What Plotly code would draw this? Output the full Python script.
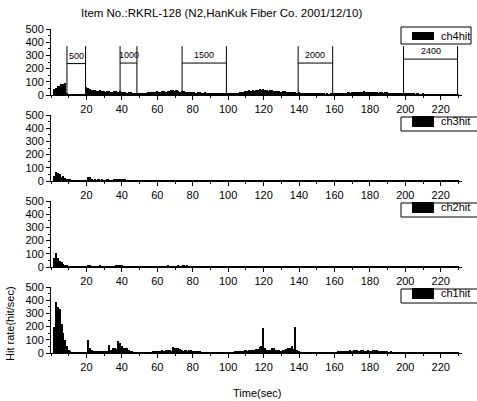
import plotly.graph_objects as go

# Hit rate per 1-second bin for each channel (t = 1 .. 230 s)
ch4hit = [
    0, 45, 55, 65, 72, 80, 85, 90, 8, 3,
    2, 2, 3, 2, 2, 3, 2, 3, 4, 58,
    52, 45, 40, 35, 38, 30, 32, 35, 28, 30,
    25, 33, 28, 22, 25, 30, 28, 25, 30, 22,
    20, 25, 18, 22, 20, 18, 15, 14, 10, 8,
    10, 12, 15, 18, 20, 22, 20, 25, 22, 28,
    25, 22, 28, 30, 25, 28, 32, 35, 38, 30,
    35, 28, 25, 30, 28, 22, 25, 20, 22, 25,
    20, 18, 22, 20, 18, 15, 20, 18, 15, 18,
    15, 12, 15, 12, 10, 12, 8, 10, 8, 10,
    12, 10, 15, 12, 18, 15, 20, 22, 25, 30,
    28, 35, 30, 38, 32, 40, 35, 45, 38, 42,
    35, 40, 30, 35, 38, 28, 32, 30, 28, 25,
    28, 30, 25, 22, 25, 20, 22, 20, 18, 20,
    18, 15, 18, 15, 12, 15, 12, 10, 12, 8,
    10, 8, 10, 8, 6, 8, 6, 8, 10, 8,
    10, 12, 15, 12, 15, 18, 15, 20, 18, 22,
    20, 25, 22, 20, 25, 22, 28, 20, 25, 22,
    20, 25, 22, 20, 18, 22, 20, 18, 22, 20,
    18, 15, 18, 15, 12, 15, 12, 15, 12, 10,
    12, 10, 8, 10, 8, 6, 8, 5, 6, 12,
    4, 5, 3, 4, 3, 5, 3, 2, 3, 2,
    3, 2, 4, 2, 3, 2, 3, 2, 3, 2,
]
ch3hit = [
    0, 40, 70, 60, 50, 30, 35, 20, 12, 10,
    8, 5, 4, 3, 3, 2, 2, 3, 2, 5,
    33, 30, 10, 6, 8, 7, 9, 6, 8, 7,
    6, 8, 5, 6, 7, 9, 10, 11, 9, 10,
    8, 9, 6, 5, 4, 3, 4, 3, 2, 3,
    2, 3, 4, 3, 2, 3, 4, 5, 4, 3,
    4, 5, 4, 3, 2, 3, 4, 3, 2, 3,
    5, 4, 6, 5, 4, 6, 5, 7, 6, 5,
    6, 4, 5, 6, 4, 5, 3, 4, 3, 2,
    3, 2, 3, 2, 2, 3, 2, 3, 2, 3,
    4, 3, 5, 4, 3, 4, 5, 3, 4, 6,
    4, 5, 3, 4, 5, 4, 3, 5, 4, 3,
    4, 3, 5, 6, 4, 5, 6, 7, 5, 4,
    3, 4, 3, 5, 4, 3, 4, 3, 2, 3,
    2, 3, 2, 2, 3, 2, 3, 2, 2, 3,
    2, 3, 2, 2, 3, 2, 3, 2, 3, 2,
    3, 4, 3, 4, 3, 4, 5, 4, 3, 4,
    5, 4, 6, 5, 4, 5, 6, 5, 7, 6,
    5, 6, 5, 4, 5, 4, 3, 4, 3, 4,
    3, 2, 3, 4, 3, 2, 3, 2, 3, 2,
    4, 3, 2, 3, 2, 3, 4, 3, 2, 3,
    2, 3, 2, 3, 4, 2, 3, 2, 3, 2,
    3, 2, 3, 2, 3, 2, 3, 2, 2, 2,
]
ch2hit = [
    0, 70, 105, 70, 45, 40, 22, 15, 8, 6,
    5, 4, 3, 3, 2, 3, 2, 2, 3, 5,
    10, 8, 6, 4, 5, 6, 5, 8, 6, 5,
    4, 5, 6, 5, 6, 7, 8, 10, 12, 9,
    7, 5, 4, 3, 4, 5, 3, 4, 3, 4,
    5, 3, 4, 3, 4, 3, 5, 4, 3, 4,
    4, 5, 4, 6, 5, 9, 6, 4, 5, 6,
    7, 8, 6, 7, 8, 7, 9, 6, 5, 4,
    3, 3, 2, 3, 3, 2, 3, 3, 2, 3,
    3, 2, 3, 2, 3, 3, 2, 3, 2, 3,
    4, 3, 5, 4, 6, 5, 4, 5, 3, 4,
    5, 6, 4, 5, 4, 3, 5, 4, 6, 5,
    4, 5, 3, 4, 5, 4, 3, 4, 5, 3,
    4, 3, 4, 5, 3, 4, 3, 4, 3, 3,
    2, 3, 2, 3, 2, 2, 3, 2, 3, 2,
    2, 3, 2, 3, 2, 3, 2, 2, 3, 2,
    4, 5, 4, 6, 5, 4, 6, 5, 7, 6,
    5, 6, 7, 5, 6, 5, 4, 6, 5, 4,
    5, 6, 4, 5, 4, 6, 5, 4, 5, 4,
    3, 2, 3, 2, 3, 4, 2, 3, 2, 3,
    2, 3, 4, 2, 3, 2, 3, 2, 3, 4,
    2, 3, 2, 3, 2, 3, 2, 3, 2, 3,
    2, 3, 2, 2, 3, 2, 3, 2, 2, 2,
]
ch1hit = [
    0, 200, 385, 345, 330, 220, 150, 100, 50, 25,
    10, 5, 4, 3, 3, 2, 3, 2, 3, 4,
    100, 40, 25, 10, 12, 15, 12, 15, 10, 12,
    8, 10, 60, 25, 35, 40, 30, 90, 75, 55,
    40, 35, 38, 20, 12, 8, 5, 3, 2, 3,
    2, 2, 3, 2, 3, 4, 6, 8, 10, 12,
    15, 18, 20, 18, 22, 25, 20, 18, 48, 35,
    40, 38, 30, 20, 18, 22, 15, 20, 25, 18,
    15, 12, 10, 8, 6, 5, 4, 3, 3, 2,
    2, 1, 2, 1, 2, 1, 2, 1, 2, 1,
    2, 3, 2, 8, 10, 12, 15, 18, 15, 20,
    18, 22, 20, 25, 22, 28, 30, 45, 50, 190,
    40, 25, 20, 22, 35, 38, 25, 20, 22, 18,
    20, 25, 28, 35, 40, 55, 30, 195, 25, 15,
    5, 2, 3, 2, 3, 2, 2, 3, 2, 3,
    2, 3, 2, 2, 3, 2, 3, 2, 2, 3,
    6, 8, 10, 8, 12, 15, 18, 15, 20, 18,
    22, 25, 20, 18, 22, 20, 18, 15, 20, 18,
    15, 22, 25, 20, 15, 12, 10, 8, 10, 8,
    6, 8, 6, 5, 6, 4, 5, 3, 4, 2,
    1, 2, 1, 1, 2, 1, 1, 2, 1, 1,
    2, 1, 1, 2, 1, 1, 2, 1, 1, 2,
    1, 1, 2, 1, 1, 2, 1, 1, 1, 1,
]
time_sec = list(range(1, len(ch4hit) + 1))

channels = ["ch4hit", "ch3hit", "ch2hit", "ch1hit"]
series = [ch4hit, ch3hit, ch2hit, ch1hit]

# Voltage step markers in the ch4 panel
step_labels = ["500", "1000", "1500", "2000", "2400"]
step_start = [9, 39, 74, 139.5, 199]
step_end = [19.5, 48.5, 99, 159, 229.5]
step_level = [238, 242, 242, 242, 272]

x_ticks = [20, 40, 60, 80, 100, 120, 140, 160, 180, 200, 220]
y_ticks = [0, 100, 200, 300, 400, 500]

W, H = 477, 401
FONT = "Arial, Liberation Sans, sans-serif"

# panel pixel extents (top, bottom)
panel_px = [(29, 95), (115, 181), (201, 267), (287, 353)]
x_left_px, x_right_px = 51, 462

fig = go.Figure()
shapes = []
annotations = []

for i, (name, vals) in enumerate(zip(channels, series)):
    k = "" if i == 0 else str(i + 1)
    fig.add_trace(go.Bar(
        x=time_sec, y=vals, width=1.0, name=name,
        marker=dict(color="black", line=dict(width=0)),
        xaxis="x" + k, yaxis="y" + k, showlegend=False,
    ))
    top, bot = panel_px[i]
    axis_common = dict(
        showline=True, linecolor="black", linewidth=1, mirror=False,
        ticks="outside", ticklen=4, tickcolor="black", tickwidth=1,
        showgrid=False, zeroline=False, automargin=False,
        tickfont=dict(family=FONT, size=11, color="black"),
    )
    fig.layout["xaxis" + k] = dict(
        axis_common, domain=[x_left_px / W, x_right_px / W], range=[0, 232],
        anchor="y" + k, tickvals=x_ticks,
        minor=dict(ticks="outside", ticklen=2, dtick=10, tick0=0, tickcolor="black"),
    )
    fig.layout["yaxis" + k] = dict(
        axis_common, domain=[1 - bot / H, 1 - top / H], range=[0, 500],
        anchor="x" + k, tickvals=y_ticks,
        minor=dict(ticks="outside", ticklen=2, dtick=50, tick0=0, tickcolor="black"),
    )

    # legend box with black swatch
    if i == 0:
        bx0, bx1, by0, by1 = 401, 471, 27, 44
        sy0, sy1, ty = 32, 40, 36
    else:
        bx0, bx1, by0, by1 = 401, 480, top + 2, top + 16
        sy0, sy1, ty = top + 1, top + 12, top + 6
    shapes.append(dict(type="rect", xref="paper", yref="paper",
                       x0=bx0 / W, x1=bx1 / W, y0=1 - by1 / H, y1=1 - by0 / H,
                       line=dict(color="black", width=1), fillcolor="rgba(0,0,0,0)"))
    shapes.append(dict(type="rect", xref="paper", yref="paper",
                       x0=412 / W, x1=434 / W, y0=1 - sy1 / H, y1=1 - sy0 / H,
                       line=dict(width=0), fillcolor="black"))
    annotations.append(dict(text=name, xref="paper", yref="paper",
                            x=439 / W, y=1 - ty / H, xanchor="left", yanchor="middle",
                            showarrow=False, font=dict(family=FONT, size=11, color="black")))

# voltage step brackets
for lab, a, b, lev in zip(step_labels, step_start, step_end, step_level):
    for xv in (a, b):
        shapes.append(dict(type="line", xref="x", yref="y", x0=xv, x1=xv, y0=0, y1=370,
                           line=dict(color="black", width=1)))
    shapes.append(dict(type="line", xref="x", yref="y", x0=a, x1=b, y0=lev, y1=lev,
                       line=dict(color="black", width=1)))
    annotations.append(dict(text=lab, xref="x", yref="y", x=(a + b) / 2, y=lev + 8,
                            xanchor="center", yanchor="bottom", showarrow=False,
                            font=dict(family=FONT, size=9, color="black")))

annotations.append(dict(text="Item No.:RKRL-128 (N2,HanKuk Fiber Co. 2001/12/10)",
                        xref="paper", yref="paper", x=221 / W, y=1 - 13 / H,
                        xanchor="center", yanchor="middle", showarrow=False,
                        font=dict(family=FONT, size=11.5, color="black")))
annotations.append(dict(text="Time(sec)", xref="paper", yref="paper",
                        x=257 / W, y=1 - 393 / H, xanchor="center", yanchor="middle",
                        showarrow=False, font=dict(family=FONT, size=11, color="black")))
annotations.append(dict(text="Hit rate(hit/sec)", xref="paper", yref="paper",
                        x=10 / W, y=1 - 324 / H, xanchor="center", yanchor="middle",
                        textangle=-90, showarrow=False,
                        font=dict(family=FONT, size=11, color="black")))

fig.update_layout(
    width=W, height=H,
    margin=dict(l=0, r=0, t=0, b=0),
    paper_bgcolor="white", plot_bgcolor="white",
    bargap=0, barmode="overlay",
    shapes=shapes, annotations=annotations,
    showlegend=False,
)

fig.write_html("out.html")
